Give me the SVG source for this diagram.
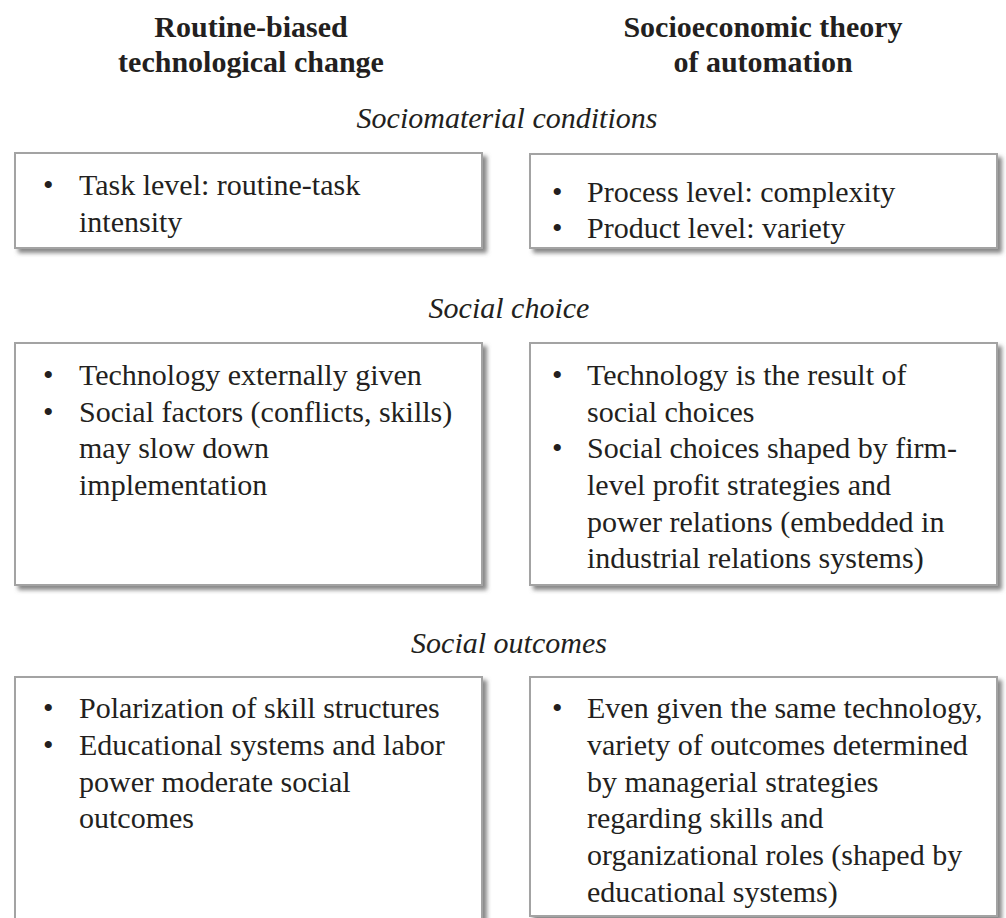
<svg xmlns="http://www.w3.org/2000/svg" width="1006" height="918" viewBox="0 0 1006 918">
<defs>
<filter id="sh" x="-5%" y="-5%" width="115%" height="120%">
<feDropShadow dx="4" dy="4" stdDeviation="2" flood-color="#7a7a7a" flood-opacity="0.9"/>
</filter>
<style>
.box{fill:#fff;stroke:#a3a3a3;stroke-width:2;filter:url(#sh)}
text{font-size:30px;fill:#231f20}
.h{font-weight:bold;text-anchor:middle}
.s{font-style:italic;text-anchor:middle}
</style>
</defs>
<rect width="1006" height="918" fill="#fff"/>
<g font-family="Liberation Serif, Times New Roman, serif">
<g id="header-left"><text class="h" x="251" y="37">Routine-biased</text><text class="h" x="251" y="72">technological change</text></g>
<g id="header-right"><text class="h" x="763" y="37">Socioeconomic theory</text><text class="h" x="763" y="72">of automation</text></g>
<g id="label-conditions"><text class="s" x="507" y="128">Sociomaterial conditions</text></g>
<g id="label-choice"><text class="s" x="509" y="318">Social choice</text></g>
<g id="label-outcomes"><text class="s" x="509" y="653">Social outcomes</text></g>
<g id="rbtc-conditions"><rect class="box" x="15" y="153" width="467" height="95"/>
<text x="43" y="195">•</text><text x="79" y="195">Task level: routine-task</text><text x="79" y="232">intensity</text></g>
<g id="seta-conditions"><rect class="box" x="530" y="154" width="467" height="94"/>
<text x="552" y="202">•</text><text x="587" y="202">Process level: complexity</text>
<text x="552" y="238">•</text><text x="587" y="238">Product level: variety</text></g>
<g id="rbtc-choice"><rect class="box" x="15" y="343" width="467" height="242"/>
<text x="43" y="385">•</text><text x="79" y="385">Technology externally given</text>
<text x="43" y="422">•</text><text x="79" y="422">Social factors (conflicts, skills)</text>
<text x="79" y="458">may slow down</text><text x="79" y="495">implementation</text></g>
<g id="seta-choice"><rect class="box" x="530" y="343" width="467" height="242"/>
<text x="552" y="385">•</text><text x="587" y="385">Technology is the result of</text>
<text x="587" y="422">social choices</text>
<text x="552" y="458">•</text><text x="587" y="458">Social choices shaped by firm-</text>
<text x="587" y="495">level profit strategies and</text>
<text x="587" y="532">power relations (embedded in</text>
<text x="587" y="568">industrial relations systems)</text></g>
<g id="rbtc-outcomes"><rect class="box" x="15" y="677" width="467" height="250"/>
<text x="43" y="718">•</text><text x="79" y="718">Polarization of skill structures</text>
<text x="43" y="755">•</text><text x="79" y="755">Educational systems and labor</text>
<text x="79" y="792">power moderate social</text><text x="79" y="828">outcomes</text></g>
<g id="seta-outcomes"><rect class="box" x="530" y="677" width="467" height="239"/>
<text x="552" y="718">•</text><text x="587" y="718">Even given the same technology,</text>
<text x="587" y="755">variety of outcomes determined</text>
<text x="587" y="792">by managerial strategies</text>
<text x="587" y="828">regarding skills and</text>
<text x="587" y="865">organizational roles (shaped by</text>
<text x="587" y="902">educational systems)</text></g>
</g>
<g id="connectors"></g>
</svg>
